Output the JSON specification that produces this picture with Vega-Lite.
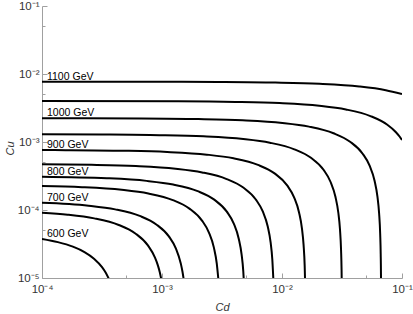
{
  "$schema": "https://vega.github.io/schema/vega-lite/v6.json",
  "width": 360,
  "height": 272,
  "autosize": {"type": "none"},
  "padding": {"left": 42, "top": 6, "right": 11, "bottom": 36},
  "background": "white",
  "config": {"view": {"stroke": null}, "font": "Liberation Sans"},
  "datasets": {
    "curves": [
      {"m":1100,"cd":1e-4,"cu":7.709e-3},{"m":1100,"cd":1.466e-3,"cu":7.673e-3},{"m":1100,"cd":2.932e-3,"cu":7.635e-3},{"m":1100,"cd":8.796e-3,"cu":7.481e-3},{"m":1100,"cd":2.053e-2,"cu":7.172e-3},{"m":1100,"cd":4.398e-2,"cu":6.555e-3},{"m":1100,"cd":7.330e-2,"cu":5.784e-3},{"m":1100,"cd":0.1,"cu":5.082e-3},
      {"m":1050,"cd":1e-4,"cu":4.009e-3},{"m":1050,"cd":1.363e-3,"cu":3.972e-3},{"m":1050,"cd":4.090e-3,"cu":3.891e-3},{"m":1050,"cd":9.543e-3,"cu":3.731e-3},{"m":1050,"cd":2.045e-2,"cu":3.410e-3},{"m":1050,"cd":3.408e-2,"cu":3.009e-3},{"m":1050,"cd":5.453e-2,"cu":2.407e-3},{"m":1050,"cd":7.498e-2,"cu":1.805e-3},{"m":1050,"cd":8.862e-2,"cu":1.404e-3},{"m":1050,"cd":9.543e-2,"cu":1.204e-3},{"m":1050,"cd":0.1,"cu":1.069e-3},
      {"m":1000,"cd":1e-4,"cu":2.239e-3},{"m":1000,"cd":6.713e-4,"cu":2.220e-3},{"m":1000,"cd":2.014e-3,"cu":2.175e-3},{"m":1000,"cd":4.699e-3,"cu":2.085e-3},{"m":1000,"cd":1.007e-2,"cu":1.906e-3},{"m":1000,"cd":1.678e-2,"cu":1.682e-3},{"m":1000,"cd":2.685e-2,"cu":1.345e-3},{"m":1000,"cd":3.692e-2,"cu":1.009e-3},{"m":1000,"cd":4.699e-2,"cu":6.726e-4},{"m":1000,"cd":5.371e-2,"cu":4.484e-4},{"m":1000,"cd":5.908e-2,"cu":2.690e-4},{"m":1000,"cd":6.243e-2,"cu":1.569e-4},{"m":1000,"cd":6.445e-2,"cu":8.968e-5},{"m":1000,"cd":6.579e-2,"cu":4.484e-5},{"m":1000,"cd":6.646e-2,"cu":2.242e-5},{"m":1000,"cd":6.680e-2,"cu":1.121e-5},{"m":1000,"cd":6.700e-2,"cu":4.484e-6},
      {"m":950,"cd":1e-4,"cu":1.297e-3},{"m":950,"cd":3.169e-4,"cu":1.288e-3},{"m":950,"cd":9.506e-4,"cu":1.262e-3},{"m":950,"cd":2.218e-3,"cu":1.210e-3},{"m":950,"cd":4.753e-3,"cu":1.106e-3},{"m":950,"cd":7.921e-3,"cu":9.760e-4},{"m":950,"cd":1.267e-2,"cu":7.808e-4},{"m":950,"cd":1.743e-2,"cu":5.856e-4},{"m":950,"cd":2.218e-2,"cu":3.904e-4},{"m":950,"cd":2.535e-2,"cu":2.603e-4},{"m":950,"cd":2.788e-2,"cu":1.562e-4},{"m":950,"cd":2.947e-2,"cu":9.109e-5},{"m":950,"cd":3.042e-2,"cu":5.205e-5},{"m":950,"cd":3.105e-2,"cu":2.603e-5},{"m":950,"cd":3.137e-2,"cu":1.301e-5},{"m":950,"cd":3.153e-2,"cu":6.507e-6},
      {"m":900,"cd":1e-4,"cu":7.621e-4},{"m":900,"cd":1.577e-4,"cu":7.593e-4},{"m":900,"cd":4.730e-4,"cu":7.439e-4},{"m":900,"cd":1.104e-3,"cu":7.132e-4},{"m":900,"cd":2.365e-3,"cu":6.519e-4},{"m":900,"cd":3.941e-3,"cu":5.752e-4},{"m":900,"cd":6.306e-3,"cu":4.602e-4},{"m":900,"cd":8.671e-3,"cu":3.451e-4},{"m":900,"cd":1.104e-2,"cu":2.301e-4},{"m":900,"cd":1.261e-2,"cu":1.534e-4},{"m":900,"cd":1.387e-2,"cu":9.203e-5},{"m":900,"cd":1.466e-2,"cu":5.369e-5},{"m":900,"cd":1.513e-2,"cu":3.068e-5},{"m":900,"cd":1.545e-2,"cu":1.534e-5},{"m":900,"cd":1.561e-2,"cu":7.669e-6},
      {"m":850,"cd":1e-4,"cu":4.699e-4},{"m":850,"cd":2.593e-4,"cu":4.611e-4},{"m":850,"cd":6.051e-4,"cu":4.421e-4},{"m":850,"cd":1.297e-3,"cu":4.041e-4},{"m":850,"cd":2.161e-3,"cu":3.566e-4},{"m":850,"cd":3.458e-3,"cu":2.852e-4},{"m":850,"cd":4.755e-3,"cu":2.139e-4},{"m":850,"cd":6.051e-3,"cu":1.426e-4},{"m":850,"cd":6.916e-3,"cu":9.508e-5},{"m":850,"cd":7.607e-3,"cu":5.705e-5},{"m":850,"cd":8.039e-3,"cu":3.328e-5},{"m":850,"cd":8.299e-3,"cu":1.902e-5},{"m":850,"cd":8.472e-3,"cu":9.508e-6},
      {"m":800,"cd":1e-4,"cu":3.090e-4},{"m":800,"cd":3.468e-4,"cu":2.933e-4},{"m":800,"cd":7.432e-4,"cu":2.681e-4},{"m":800,"cd":1.239e-3,"cu":2.366e-4},{"m":800,"cd":1.982e-3,"cu":1.892e-4},{"m":800,"cd":2.725e-3,"cu":1.419e-4},{"m":800,"cd":3.468e-3,"cu":9.462e-5},{"m":800,"cd":3.964e-3,"cu":6.308e-5},{"m":800,"cd":4.360e-3,"cu":3.785e-5},{"m":800,"cd":4.608e-3,"cu":2.208e-5},{"m":800,"cd":4.756e-3,"cu":1.262e-5},{"m":800,"cd":4.855e-3,"cu":6.308e-6},
      {"m":750,"cd":1e-4,"cu":2.254e-4},{"m":750,"cd":2.154e-4,"cu":2.167e-4},{"m":750,"cd":4.615e-4,"cu":1.980e-4},{"m":750,"cd":7.691e-4,"cu":1.747e-4},{"m":750,"cd":1.231e-3,"cu":1.398e-4},{"m":750,"cd":1.692e-3,"cu":1.049e-4},{"m":750,"cd":2.154e-3,"cu":6.990e-5},{"m":750,"cd":2.461e-3,"cu":4.660e-5},{"m":750,"cd":2.707e-3,"cu":2.796e-5},{"m":750,"cd":2.861e-3,"cu":1.631e-5},{"m":750,"cd":2.953e-3,"cu":9.320e-6},
      {"m":700,"cd":1e-4,"cu":1.279e-4},{"m":700,"cd":2.445e-4,"cu":1.159e-4},{"m":700,"cd":4.074e-4,"cu":1.022e-4},{"m":700,"cd":6.519e-4,"cu":8.178e-5},{"m":700,"cd":8.963e-4,"cu":6.134e-5},{"m":700,"cd":1.141e-3,"cu":4.089e-5},{"m":700,"cd":1.304e-3,"cu":2.726e-5},{"m":700,"cd":1.434e-3,"cu":1.636e-5},{"m":700,"cd":1.483e-3,"cu":1.227e-5},{"m":700,"cd":1.516e-3,"cu":9.541e-6},
      {"m":650,"cd":1e-4,"cu":9.120e-5},{"m":650,"cd":1.636e-4,"cu":8.535e-5},{"m":650,"cd":2.726e-4,"cu":7.531e-5},{"m":650,"cd":4.361e-4,"cu":6.025e-5},{"m":650,"cd":5.997e-4,"cu":4.518e-5},{"m":650,"cd":7.632e-4,"cu":3.012e-5},{"m":650,"cd":8.722e-4,"cu":2.008e-5},{"m":650,"cd":9.268e-4,"cu":1.506e-5},{"m":650,"cd":9.595e-4,"cu":1.205e-5},{"m":650,"cd":9.922e-4,"cu":9.037e-6},
      {"m":600,"cd":1e-4,"cu":3.750e-5},{"m":600,"cd":1.356e-4,"cu":3.371e-5},{"m":600,"cd":1.808e-4,"cu":2.889e-5},{"m":600,"cd":2.260e-4,"cu":2.408e-5},{"m":600,"cd":2.712e-4,"cu":1.926e-5},{"m":600,"cd":3.164e-4,"cu":1.445e-5},{"m":600,"cd":3.390e-4,"cu":1.204e-5},{"m":600,"cd":3.616e-4,"cu":9.630e-6}
    ],
    "labels": [
      {"t":"1100 GeV","cd":1.1e-4,"cu":7.709e-3},
      {"t":"1000 GeV","cd":1.1e-4,"cu":2.239e-3},
      {"t":"900 GeV","cd":1.1e-4,"cu":7.621e-4},
      {"t":"800 GeV","cd":1.1e-4,"cu":3.090e-4},
      {"t":"700 GeV","cd":1.1e-4,"cu":1.279e-4},
      {"t":"600 GeV","cd":1.1e-4,"cu":3.750e-5}
    ]
  },
  "layer": [
    {
      "data": {"name": "curves"},
      "mark": {"type": "line", "color": "black", "strokeWidth": 2, "clip": true, "interpolate": "monotone"},
      "encoding": {
        "x": {
          "field": "cd", "type": "quantitative",
          "scale": {"type": "log", "domain": [1e-4, 0.1], "nice": false},
          "axis": {
            "values": [1e-4, 5e-4, 1e-3, 5e-3, 1e-2, 5e-2, 1e-1],
            "labelExpr": "abs(log(datum.value)/LN10 - round(log(datum.value)/LN10)) < 0.01 ? '10' + ['⁰','⁻¹','⁻²','⁻³','⁻⁴','⁻⁵'][-round(log(datum.value)/LN10)] : ''",
            "grid": false,
            "domainColor": "#a0a0a0",
            "tickColor": "#a0a0a0",
            "tickSize": {"condition": {"test": "abs(log(datum.value)/LN10 - round(log(datum.value)/LN10)) < 0.01", "value": -5}, "value": -3},
            "labelPadding": 10,
            "labelFlush": false,
            "labelFontSize": 11.5,
            "labelColor": "#333333",
            "title": "Cd",
            "titleFontStyle": "italic",
            "titleFontWeight": "normal",
            "titleFontSize": 11,
            "titleColor": "#333333",
            "titleBaseline": "alphabetic",
            "titleY": 32
          }
        },
        "y": {
          "field": "cu", "type": "quantitative",
          "scale": {"type": "log", "domain": [1e-5, 0.1], "nice": false},
          "axis": {
            "values": [1e-5, 5e-5, 1e-4, 5e-4, 1e-3, 5e-3, 1e-2, 5e-2, 1e-1],
            "labelExpr": "abs(log(datum.value)/LN10 - round(log(datum.value)/LN10)) < 0.01 ? '10' + ['⁰','⁻¹','⁻²','⁻³','⁻⁴','⁻⁵'][-round(log(datum.value)/LN10)] : ''",
            "grid": false,
            "domainColor": "#a0a0a0",
            "tickColor": "#a0a0a0",
            "tickSize": {"condition": {"test": "abs(log(datum.value)/LN10 - round(log(datum.value)/LN10)) < 0.01", "value": -5}, "value": -3},
            "labelPadding": 8,
            "labelFlush": false,
            "labelFontSize": 11.5,
            "labelColor": "#333333",
            "title": "Cu",
            "titleFontStyle": "italic",
            "titleFontWeight": "normal",
            "titleFontSize": 11,
            "titleColor": "#333333",
            "titleX": -27,
            "titleY": 142
          }
        },
        "detail": {"field": "m", "type": "nominal"}
      }
    },
    {
      "data": {"name": "labels"},
      "mark": {"type": "text", "align": "left", "baseline": "alphabetic", "dy": -2, "fontSize": 10.5, "font": "Liberation Sans", "color": "black"},
      "encoding": {
        "x": {"field": "cd", "type": "quantitative"},
        "y": {"field": "cu", "type": "quantitative"},
        "text": {"field": "t"}
      }
    }
  ]
}
